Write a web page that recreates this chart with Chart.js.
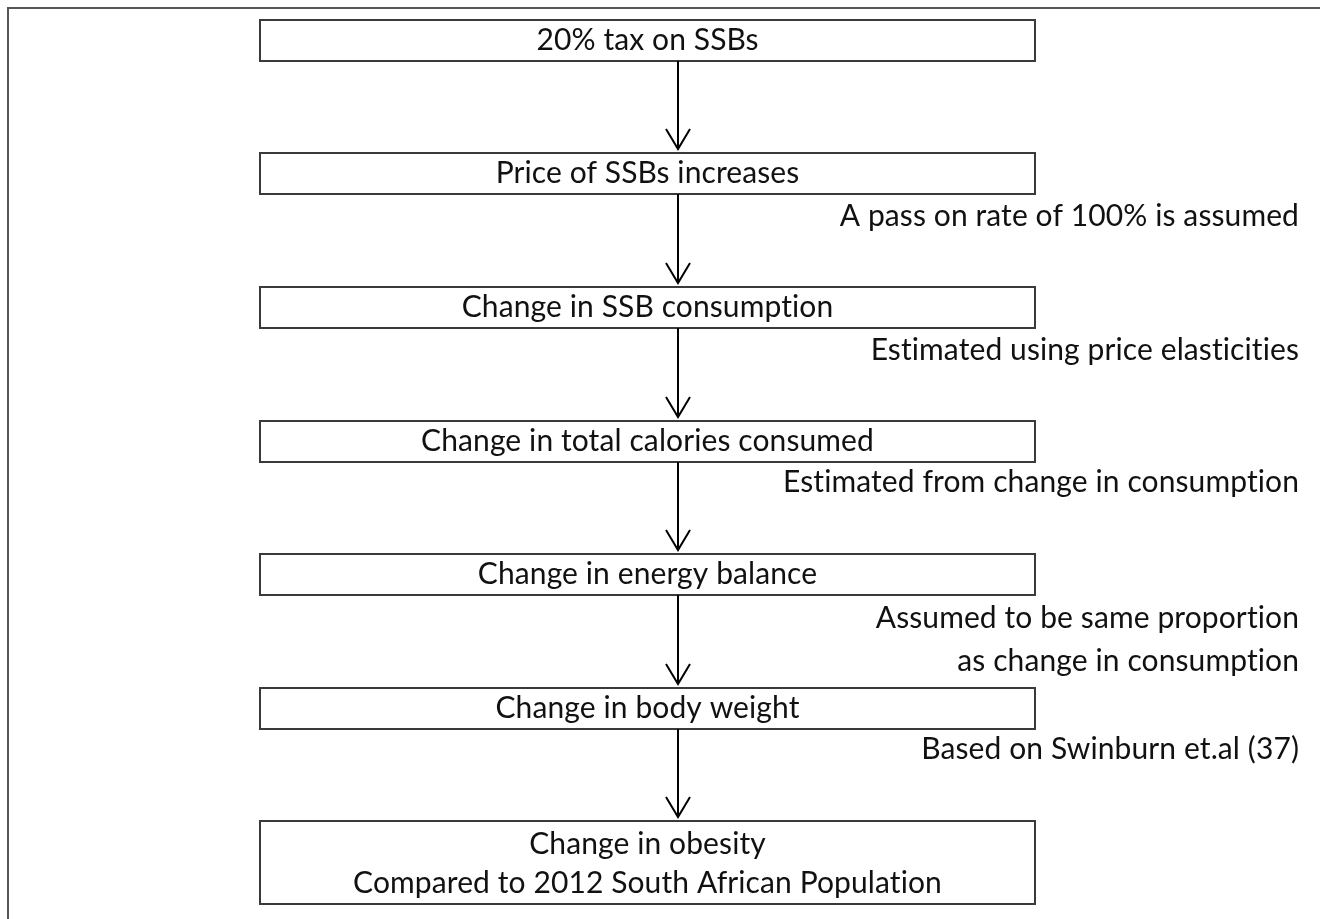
<!DOCTYPE html>
<html>
<head>
<meta charset="utf-8">
<script src="https://cdn.jsdelivr.net/npm/chart.js@4/dist/chart.umd.min.js"></script>
<style>
  html, body { margin: 0; padding: 0; background: #fff; }
  #wrap { width: 1320px; height: 919px; position: relative; }
</style>
</head>
<body>
<div id="wrap"><canvas id="flow"></canvas></div>
<script>
// flow steps, top to bottom (a nested array = a box with two lines)
var steps = [
  '20% tax on SSBs',
  'Price of SSBs increases',
  'Change in SSB consumption',
  'Change in total calories consumed',
  'Change in energy balance',
  'Change in body weight',
  ['Change in obesity', 'Compared to 2012 South African Population']
];
// row where each box starts (flow units, 0 = first box)
var stepRows = [0, 1, 2, 3, 4, 5, 6];

// side notes, right aligned, and the row of their baseline
var notes = [
  'A pass on rate of 100% is assumed',
  'Estimated using price elasticities',
  'Estimated from change in consumption',
  'Assumed to be same proportion',
  'as change in consumption',
  'Based on Swinburn et.al (37)'
];
var noteRows = [1.543, 2.547, 3.536, 4.554, 4.876, 5.536];

var FONT = '30px Lato, "Open Sans", sans-serif';
var INK = '#111';
var BOX_LINE = '#3a3a3a';
var boxLeft = 260, boxRight = 1035, arrowX = 678, noteRight = 1299;
var rowPx = 133.5;        // used only to size boxes relative to a row
var lineH = 39;

function boxHeight(label) {
  return Array.isArray(label) ? 83 : 41;
}

var flowPlugin = {
  id: 'flow',
  afterDatasetsDraw: function (chart) {
    var ctx = chart.ctx;
    var xs = chart.scales.x, ys = chart.scales.y;
    ctx.save();

    // outer frame (right/bottom edges fall outside the picture)
    ctx.strokeStyle = '#555';
    ctx.lineWidth = 2;
    ctx.strokeRect(8, 8, chart.width + 20, chart.height + 20);

    var x0 = xs.getPixelForValue(boxLeft), x1 = xs.getPixelForValue(boxRight);
    var cx = (x0 + x1) / 2;
    var ax = xs.getPixelForValue(arrowX);

    ctx.font = FONT;
    ctx.textAlign = 'center';
    ctx.textBaseline = 'alphabetic';
    if ('letterSpacing' in ctx) ctx.letterSpacing = '0.1px'; // no "ti" ligature

    steps.forEach(function (label, i) {
      var top = Math.round(ys.getPixelForValue(stepRows[i]));
      var h = boxHeight(label);
      ctx.strokeStyle = BOX_LINE;
      ctx.lineWidth = 2;
      ctx.strokeRect(x0, top, x1 - x0, h);
      ctx.fillStyle = INK;
      var lines = Array.isArray(label) ? label : [label];
      lines.forEach(function (t, k) {
        var base = top + (lines.length > 1 ? 33 : 30) + k * lineH;
        ctx.fillText(t, cx, base);
      });

      // arrow down to the next box
      if (i < steps.length - 1) {
        var y0 = top + h;
        var y1 = Math.round(ys.getPixelForValue(stepRows[i + 1])) - 4;
        ctx.strokeStyle = '#000';
        ctx.lineWidth = 2;
        ctx.beginPath();
        ctx.moveTo(ax, y0);
        ctx.lineTo(ax, y1);
        ctx.moveTo(ax - 12, y1 - 20);
        ctx.lineTo(ax, y1);
        ctx.lineTo(ax + 12, y1 - 20);
        ctx.stroke();
      }
    });

    ctx.textAlign = 'right';
    ctx.fillStyle = INK;
    notes.forEach(function (t, i) {
      ctx.fillText(t, xs.getPixelForValue(noteRight), ys.getPixelForValue(noteRows[i]));
    });
    ctx.restore();
  }
};

new Chart(document.getElementById('flow'), {
  type: 'scatter',
  data: {
    datasets: [{
      label: 'steps',
      data: steps.map(function (s, i) { return { x: (boxLeft + boxRight) / 2, y: stepRows[i] }; }),
      pointRadius: 0
    }]
  },
  options: {
    responsive: true,
    maintainAspectRatio: false,
    animation: false,
    layout: { padding: 0 },
    plugins: { legend: { display: false }, tooltip: { enabled: false } },
    scales: {
      x: { type: 'linear', display: false, min: 0, max: 1320 },
      y: { type: 'linear', display: false, reverse: true, min: -20 / rowPx, max: (919 - 20) / rowPx }
    }
  },
  plugins: [flowPlugin]
});
</script>
</body>
</html>
